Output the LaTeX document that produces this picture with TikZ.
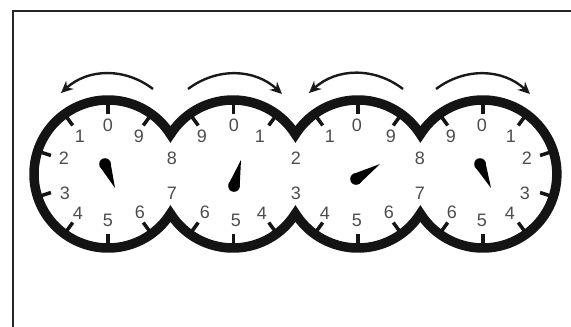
\documentclass[tikz,border=0pt]{standalone}
\usepackage{fontspec}
\setmainfont{Liberation Sans}
\usetikzlibrary{arrows.meta,calc}

\begin{document}
\begin{tikzpicture}[
  x=1pt,y=-1pt,
  digit/.style={text=black!70,font=\fontsize{18}{18}\selectfont,inner sep=0pt},
  ring/.style={draw=black!92,line width=9.5pt},
  tickmark/.style={draw=black!92,line width=3.5pt},
  frameline/.style={draw=black!85,line width=2pt},
  turn/.style={draw=black!90,line width=2.4pt,-{Stealth[length=12pt,width=11pt]}},
  needle/.style={fill=black}
]
  \useasboundingbox (0,0) rectangle (571,327);
  \draw[frameline] (13,327) -- (13,11) -- (571,11);

  \coordinate (dial1) at (108,174);
  \coordinate (dial2) at (233.5,174);
  \coordinate (dial3) at (358,174);
  \coordinate (dial4) at (483,174);

  \draw[ring] ($(dial1)+(-32.4:74)$)
    arc[start angle=-32.4,end angle=-327.6,radius=74]
    arc[start angle=147.6,end angle=32.4,radius=74]
    arc[start angle=147.6,end angle=32.4,radius=74]
    arc[start angle=147.6,end angle=-147.6,radius=74]
    arc[start angle=-32.4,end angle=-147.6,radius=74]
    arc[start angle=-32.4,end angle=-147.6,radius=74]
    -- cycle;

  \foreach \dial in {1,2,3,4}
    \foreach \a in {90,54,126,234,270,306}
      \draw[tickmark] ($(dial\dial)+(\a:60)$) -- ($(dial\dial)+(\a:72)$);
  \foreach \a in {162,198}
    \draw[tickmark] ($(dial1)+(\a:60)$) -- ($(dial1)+(\a:72)$);
  \foreach \a in {18,-18}
    \draw[tickmark] ($(dial4)+(\a:60)$) -- ($(dial4)+(\a:72)$);

  \foreach \x/\y/\txt [count=\i] in {
    108/125/0,80/136/1,64/158/2,65/193/3,78/213/4,108/220/5,140/212/6,172/193/7,172/158/8,139/136/9,
    202/136/9,234/125/0,260/136/1,296/158/2,296/193/3,262/213/4,236/220/5,205/212/6,
    330/136/1,357/125/0,391/136/9,420/158/8,420/193/7,389/212/6,357/220/5,325/213/4,
    451/136/9,482/125/0,511/136/1,527/158/2,525/193/3,510/213/4,482/220/5,452/212/6}
    \node[digit] (digit\i) at (\x,\y) {\txt};

  \foreach \bx/\by/\tx/\ty [count=\i] in {105/164/115/188,234/186/241/160,356/179/380/164,480/164/491/188} {
    \coordinate (hub\i) at (\bx,\by);
    \coordinate (tip\i) at (\tx,\ty);
    \fill[needle] (hub\i) circle[radius=5.8];
    \fill[needle] ($(hub\i)!5.8pt!90:(tip\i)$) -- (tip\i) -- ($(hub\i)!5.8pt!-90:(tip\i)$) -- cycle;
  }

  \coordinate (from1) at (153,89);
  \coordinate (to1) at (61,93);
  \coordinate (from2) at (188,89);
  \coordinate (to2) at (282,94);
  \coordinate (from3) at (403,89);
  \coordinate (to3) at (309,93);
  \coordinate (from4) at (436,89);
  \coordinate (to4) at (530,94);
  \draw[turn] (from1) to[bend right=40] (to1);
  \draw[turn] (from2) to[bend left=40] (to2);
  \draw[turn] (from3) to[bend right=40] (to3);
  \draw[turn] (from4) to[bend left=40] (to4);
\end{tikzpicture}
\end{document}
